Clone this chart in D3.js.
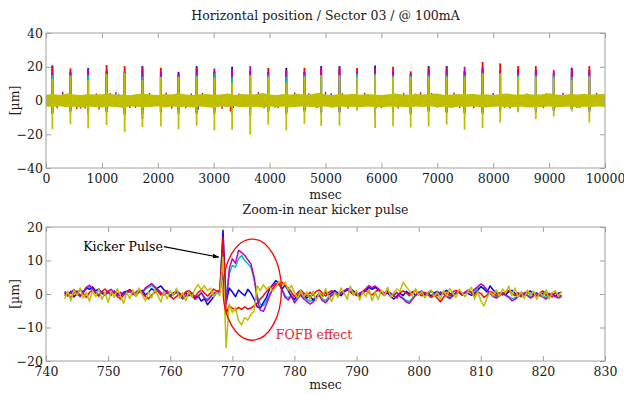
<!DOCTYPE html>
<html>
<head>
<meta charset="utf-8">
<script src="https://cdn.jsdelivr.net/npm/d3@7"></script>
<style>
  html, body { margin: 0; padding: 0; background: #fff; }
  svg { display: block; }
  text { font-family: "DejaVu Serif", serif; }
</style>
</head>
<body>
<svg id="chart" width="624" height="394"></svg>
<script>
// ---------- Series colours (blue, red, magenta, cyan, yellow) ----------
const seriesNames = ["BPM 1", "BPM 2", "BPM 3", "BPM 4", "BPM 5"];
const seriesColors = ["#0000ff", "#ff0000", "#bf00bf", "#00bfbf", "#bfbf00"];

// ---------- Top panel: 10 s record ----------
const topXTicks = [0, 1000, 2000, 3000, 4000, 5000, 6000, 7000, 8000, 9000, 10000];
const topYTicks = [-40, -20, 0, 20, 40];

// kicker pulse instants [msec]
const spikeTimes = [114, 437, 754, 1084, 1407, 1725, 2054, 2371, 2695, 3012, 3329, 3653, 3976, 4299, 4623,
  4923, 5250, 5565, 5887, 6208, 6524, 6845, 7167, 7488, 7810, 8125, 8446, 8762, 9083, 9405, 9720];

// positive excursion at each pulse, per series [um]
const spikePeakBlue    = [20.8, 17, 19.2, 18, 17, 20.4, 17, 17, 20.4, 17, 20, 17, 17, 19.3, 17, 20.4, 20.4, 17, 20.8, 17, 16, 20.4, 20.4, 17, 19, 18, 18, 18, 16, 19.4, 18];
const spikePeakRed     = [20, 19, 17.5, 21, 20.4, 19.5, 19.4, 16, 19.5, 17.5, 18, 17.5, 19.3, 18, 19.4, 19.5, 19.8, 19.2, 19.5, 20, 17.3, 19.5, 19.8, 17.5, 22.8, 22, 20.4, 20.4, 16.5, 18.5, 20.4];
const spikePeakMagenta = [17, 16.5, 18.5, 17, 17, 18, 17, 15.5, 18, 19, 18.5, 20.4, 17, 17.5, 17, 18, 18, 17, 18, 17, 16, 18, 18, 20, 19.5, 17, 17, 17, 18, 17, 17];
const spikePeakCyan    = [15, 15, 15, 15, 16, 14, 14, 14, 15, 16, 14, 15, 15, 14, 15, 15, 15, 16, 16, 15, 15, 15, 15, 15, 16, 16, 15, 15, 15, 14, 15];
const spikePeakYellow  = [13, 14.5, 12, 15.7, 16.5, 12, 14, 14, 14, 13.5, 10.6, 15, 14, 10.6, 14, 15, 15, 14, 15, 14, 14, 14, 14, 14, 16, 16, 14, 14, 13.5, 12, 14];

// negative excursion at each pulse, per series [um]
const spikeLowBlue    = [-7, -6, -7, -6, -7, -6, -7, -6, -8, -6, -7, -6, -6, -7, -6, -7, -6, -5, -7, -6, -8, -6, -7, -6, -7, -6, -5, -6, -6, -5, -6];
const spikeLowRed     = [-8, -6, -7, -7, -8, -11, -7, -6, -7, -7, -8, -7, -6, -7, -6, -7, -7, -5, -7, -7, -7, -6, -7, -7, -7, -6, -5, -6, -6, -5, -6];
const spikeLowMagenta = [-8, -7, -8, -7, -9, -8, -7, -8, -7, -8, -8, -9, -7, -8, -7, -7, -7, -5, -8, -7, -8, -7, -7, -8, -8, -7, -6, -7, -6, -5, -7];
const spikeLowCyan    = [-7, -6, -7, -6, -8, -7, -6, -7, -6, -7, -7, -8, -6, -7, -6, -6, -6, -5, -7, -6, -7, -6, -6, -7, -7, -6, -5, -6, -5, -5, -6];
const spikeLowYellow  = [-17, -14, -16.5, -14.5, -18.7, -15.7, -15.3, -17, -15, -17.7, -17.3, -20.2, -14.3, -17.7, -13.8,
  -15, -15, -6, -16.3, -15.3, -16, -15.3, -14.3, -17.3, -16.3, -13, -7, -11, -9.4, -6.5, -13];

// noise envelope of the last series, sampled evenly over 0..10000 msec [um]
const bandHigh = [3.4, 3.8, 3.2, 4.1, 3.6, 3.3, 3.9, 3.5, 3.7, 4.2, 3.4, 3.6, 3.1, 3.8, 4.0, 3.5, 3.3, 3.9, 3.6, 4.3,
  3.5, 3.2, 3.7, 3.9, 3.4, 3.6, 4.1, 3.3, 3.8, 3.5, 3.7, 4.4, 3.6, 3.2, 3.9, 3.5, 4.0, 3.4, 3.7, 4.6,
  3.5, 3.3, 3.8, 3.6, 4.0, 3.4, 3.9, 3.5, 3.2, 3.7, 4.1, 3.6, 3.4, 3.9, 3.5, 3.8, 4.2, 3.3, 3.6, 3.9,
  3.5, 4.0, 3.4, 3.7, 3.3, 3.8, 4.1, 3.5, 3.6, 3.9, 3.4, 3.7, 4.3, 3.5, 3.2, 3.8, 3.6, 4.0, 3.5, 3.7, 3.9];
const bandLow = [-3.6, -3.9, -3.4, -4.0, -3.7, -4.3, -3.5, -3.8, -4.1, -3.6, -3.9, -4.4, -3.5, -3.7, -4.0, -3.8, -3.4, -4.2, -3.6, -3.9,
  -3.7, -4.1, -3.5, -3.8, -4.5, -3.6, -3.9, -3.4, -4.0, -3.7, -3.8, -4.2, -3.5, -3.9, -3.6, -4.1, -3.7, -3.4, -4.0, -3.8,
  -3.6, -4.3, -3.5, -3.9, -3.7, -4.0, -3.6, -3.8, -4.2, -3.5, -3.9, -3.7, -4.1, -3.6, -3.8, -3.4, -4.0, -3.7, -4.4, -3.6,
  -3.9, -3.5, -3.8, -4.1, -3.7, -3.6, -4.0, -3.8, -3.5, -4.2, -3.7, -3.9, -3.6, -4.0, -3.8, -3.5, -4.1, -3.7, -3.9, -3.6, -3.8];

// isolated noise excursions of the other series beyond the band [msec, um]
const blueExcursions = [[1100, -4.4], [2720, -5.5], [3350, -4.5], [5100, 4.2], [5900, -4.8], [7800, 4.3], [9100, -4.6]];
const redExcursions = [[200, -4.6], [550, -5.2], [700, -4.8], [950, -5.4], [1150, 4.5], [1600, -4.4], [2250, -4.8], [2600, 4.2],
  [3300, -6.5], [3900, -4.6], [4850, -4.4], [5300, 4.3], [6300, -4.7], [6900, 4.4], [7400, -4.5], [8200, -4.3], [8950, 4.2], [9500, -4.4]];
const magentaExcursions = [[300, 5.2], [420, 4.6], [620, -4.8], [900, 4.2], [1250, 5.0], [1500, -4.5], [1850, 4.4], [2150, 4.8],
  [2500, -4.6], [2800, 4.5], [3150, -5.0], [3450, 4.2], [3800, 5.0], [4150, -4.4], [4450, 4.8], [4700, 4.3], [5000, 5.2],
  [5400, -4.8], [5700, 4.6], [6000, -4.5], [6400, 4.4], [6700, 5.0], [7000, -4.2], [7300, 4.8], [7650, -4.6], [8000, 4.4],
  [8300, -4.8], [8600, 4.2], [8900, -4.5], [9250, 4.6], [9550, -4.3], [9850, 4.5]];
const cyanExcursions = [[1300, 4.2], [4100, -4.3], [6600, 4.1], [8700, -4.2]];

// ---------- Bottom panel: zoom around the pulse at 768.5 msec ----------
const zoomXTicks = [740, 750, 760, 770, 780, 790, 800, 810, 820, 830];
const zoomYTicks = [-20, -10, 0, 10, 20];
const zoomStart = 743, zoomStep = 0.5;   // sample grid [msec]

const zoomBlue = [
  0.4, -0.6, 0.8, -0.9, 0.3, 1.2, 0.6, 1.9, 1.4, 2.1, 0.9, 1.5, 0.2, -0.4, 0.6, -0.2, 0.9, 0.1, -0.7, 0.5,
  0.8, 1.3, 0.4, -0.5, 0.7, 1.1, -0.3, 0.5, 1.6, 0.9, 1.8, 2.4, 1.2, 0.6, -0.4, 0.3, 1.0, 0.2, -0.6, 0.4,
  -0.5, 0.3, -1.2, -0.6, -2.1, -1.4, -3.2, -2.0, -0.8, 0.4, 0.9, 19.0, -2.5, 1.8, 0.6, -0.8, 1.2, 0.3, -0.5, 1.4,
  0.2, -1.5, -3.8, -4.2, -2.5, -1.0, 1.5, 2.8, 4.0, 3.2, 1.5, 2.6, 1.0, -0.8, -1.6, -0.4, 0.8, -0.3, -1.2, -0.5,
  -1.8, -0.9, 0.2, -0.6, 0.5, -0.3, 0.4, 1.0, 0.3, -0.5, 0.6, 1.2, 1.8, 0.9, 0.2, -0.4, 0.5, 1.0, 1.9, 1.4,
  2.0, 1.2, 0.5, -0.3, 0.4, -0.8, -1.5, -0.6, 0.2, -0.5, 0.8, 0.1, 0.6, -0.4, 0.3, 0.9, -0.2, 0.4, -0.6, 0.3,
  0.8, -0.2, 0.5, 1.1, 0.2, -0.5, 0.4, 0.9, -0.3, 0.6, 0.1, -0.4, 0.3, 1.0, 2.2, 1.5, 0.6, 2.4, 1.2, 0.3,
  -0.5, 0.4, -0.2, 0.7, 1.1, 0.2, -0.6, 0.5, -0.3, 0.4, 0.9, -0.2, 0.3, -0.5, 0.2, 0.8, -0.4, 0.3, -0.8, 0.2,
  0.5];
const zoomRed = [
  -0.5, 0.6, -1.2, 0.3, 0.9, -0.4, 0.2, -1.0, 0.5, 1.2, 0.3, -0.6, 0.8, 1.5, 0.4, -0.3, 0.7, -0.8, -1.5, -0.2,
  0.6, 1.2, 0.3, -0.5, 0.9, 0.2, -0.7, -1.4, -0.4, 0.5, 0.8, -0.3, 0.4, 1.0, -0.6, -1.5, -0.8, 0.3, -0.5, 0.6,
  1.0, 0.2, -0.8, 0.5, 1.2, 0.3, -0.6, 0.4, 1.5, 0.8, 1.2, 17.0, -6.0, -3.5, -4.2, -4.8, -4.0, -4.6, -3.8, -4.5,
  -4.2, -3.5, -2.8, -1.5, -0.5, 0.8, 1.6, 2.5, 3.2, 2.8, 3.5, 2.4, 1.8, 0.6, -0.8, 0.4, 1.2, 0.3, -0.6, 0.5,
  -0.4, 0.8, 1.2, 0.2, -0.6, 0.5, 1.0, 0.3, -0.5, 0.4, 0.9, 1.5, 0.6, -0.2, 0.5, -0.8, 0.3, 1.1, 0.4, -0.3,
  0.6, 1.2, 0.3, -0.4, 0.8, 0.2, -0.7, -1.2, 0.4, 0.9, 0.3, -0.5, 0.6, 1.0, 0.2, -0.6, 0.5, -0.3, -1.0, -0.4,
  -1.2, -2.3, -1.0, 0.3, -0.5, 0.6, 1.1, 0.4, -0.3, 0.5, 1.2, 0.3, -0.4, 0.6, 0.2, -1.0, -0.4, 0.8, 0.3, -0.5,
  0.4, -0.3, 0.6, 1.0, 0.2, -0.5, 0.4, -0.8, 0.3, 0.7, -0.2, 0.5, -0.6, 0.3, 0.9, -0.4, 0.2, -0.9, 0.4, -0.3,
  -0.5];
const zoomMagenta = [
  0.8, -0.5, 0.4, 1.3, 0.2, -0.8, 0.6, 2.0, 2.6, 1.5, 0.4, -0.5, 0.7, -0.2, 0.9, 1.4, 0.3, -0.4, 0.5, -0.3,
  0.4, 0.9, -0.2, 0.6, 1.2, 0.5, 1.8, 2.5, 3.1, 2.2, 1.3, 0.4, -0.3, 0.6, -0.8, -0.2, 0.5, -0.4, -1.5, -0.6,
  0.3, -0.5, -1.6, -0.8, 0.4, -1.2, -2.0, -0.9, 0.2, 0.6, 0.9, 8.0, -3.0, 7.5, 10.5, 9.2, 13.0, 12.4, 11.5, 10.2,
  9.0, 5.0, -1.5, -4.8, -5.2, -3.0, -0.5, 1.6, 2.8, 3.4, 1.2, -1.0, -1.8, -0.5, -2.6, -1.4, -0.3, -1.5, -2.2, -3.0,
  -2.4, -1.2, -0.5, -2.0, -2.6, -1.5, -0.4, 0.3, -0.6, 0.4, 0.9, 1.6, 0.8, 0.2, -0.5, 0.3, 0.8, 1.6, 2.5, 1.8,
  2.4, 1.6, 0.8, 0.3, 0.9, 0.2, -0.4, 0.5, -0.8, -1.5, -2.4, -2.8, -1.6, -0.4, 0.5, 0.2, -0.6, 0.4, 0.9, 0.1,
  -0.5, 0.6, 0.2, -0.8, -1.4, -0.6, 0.3, 0.8, -0.2, 0.5, 1.2, 0.4, 1.4, 2.2, 3.0, 2.4, 1.2, 0.2, -0.8, -1.2,
  -0.6, 0.3, -0.4, -1.0, -2.0, -1.6, -0.8, -0.3, 0.2, -0.5, -1.2, -0.6, 0.3, -0.4, -0.9, -1.5, -0.6, 0.2, -0.7, -1.2,
  -0.8];
const zoomCyan = [
  0.5, -0.3, 0.6, 1.0, 0.1, -0.6, 0.4, 1.5, 2.0, 1.2, 0.6, -0.2, 0.5, 0.1, 0.7, 1.1, 0.4, -0.2, 0.3, -0.1,
  0.3, 0.7, 0.0, 0.4, 0.9, 0.3, 1.4, 2.0, 2.6, 1.8, 1.0, 0.3, -0.1, 0.4, -0.5, -0.1, 0.4, -0.2, -1.0, -0.4,
  0.2, -0.3, -1.2, -0.5, 0.3, -0.9, -1.6, -0.6, 0.1, 0.4, 0.6, 6.0, -2.0, 6.0, 8.5, 8.0, 10.5, 11.5, 10.0, 9.0,
  8.0, 4.5, -0.5, -3.0, -3.5, -2.0, -0.2, 1.2, 2.4, 3.0, 1.5, -0.5, -1.2, -0.2, -1.8, -1.0, 0.0, -1.0, -1.6, -2.2,
  -1.8, -0.8, -0.3, -1.5, -2.0, -1.0, -0.2, 0.3, -0.4, 0.3, 0.7, 1.2, 0.6, 0.1, -0.3, 0.2, 0.6, 1.2, 2.0, 1.5,
  2.0, 1.3, 0.6, 0.2, 0.7, 0.1, -0.3, 0.3, -0.6, -1.2, -1.9, -2.3, -1.2, -0.3, 0.4, 0.1, -0.4, 0.3, 0.7, 0.0,
  -0.3, 0.4, 0.1, -0.6, -1.0, -0.4, 0.2, 0.6, -0.1, 0.4, 0.9, 0.3, 1.0, 1.6, 2.2, 1.8, 0.9, 0.1, -0.5, -0.9,
  -0.4, 0.2, -0.3, -0.7, -1.4, -1.2, -0.6, -0.2, 0.1, -0.3, -0.8, -0.4, 0.2, -0.3, -0.6, -1.0, -0.4, 0.1, -0.5, -0.8,
  -0.6];
const zoomYellow = [
  -1.5, 0.8, -2.0, 1.2, -0.5, 1.8, -1.2, 0.5, -2.2, 1.0, -0.8, 1.5, -1.6, 0.4, -2.5, 0.9, -1.0, 1.6, -0.6, -2.8,
  0.5, -1.4, 1.2, -0.8, 1.8, -0.3, -2.0, 0.7, -1.2, 1.4, -0.5, -2.4, 0.8, -1.5, 1.0, -0.6, 1.7, -1.3, 0.4, -2.0,
  0.6, -1.0, 1.5, 2.8, 1.2, 2.5, 1.0, 1.8, -0.8, 0.5, -0.5, 11.0, -16.0, -3.0, -5.5, -4.0, -8.0, -9.2, -7.0, -7.8,
  -6.0, -5.2, 2.5, 1.0, 2.8, 1.5, 2.2, 0.8, 2.0, 3.8, 2.5, 3.5, 1.2, 2.6, 0.5, -1.2, 1.0, -0.8, 0.6, -1.6,
  0.8, -2.0, 0.5, -1.2, 1.6, -0.6, -2.2, 0.4, -1.0, 1.8, 0.2, -1.5, 2.4, -0.4, 1.0, -1.8, 0.6, -0.8, 1.4, -2.0,
  0.5, -1.6, 1.2, -0.5, 2.0, -1.0, 0.4, 1.5, 0.8, 3.5, 2.2, 1.0, -0.6, 1.6, -0.4, 0.8, -1.2, 0.5, 1.2, -0.8,
  0.6, -1.5, 1.0, -0.6, 1.6, 0.2, -1.0, 1.4, 0.3, -0.8, 1.0, 2.0, -1.5, 0.8, -2.0, -3.6, -1.2, 0.6, -0.5, 1.2,
  -0.8, 1.5, 0.3, 2.4, -0.5, 1.8, -1.0, 0.6, -1.4, 1.2, -0.4, 0.9, -1.6, 0.5, -0.8, 1.2, -1.5, 0.4, 1.0, -0.6,
  0.8];

// annotations in data units
const kickerLabel = { text: "Kicker Pulse", x: 746.0, y: 12.8, tipX: 767.8, tipY: 11.0 };
const fofbEllipse = { cx: 773.2, cy: 1.3, rx: 4.7, ry: 15.1 };
const fofbLabel = { text: "FOFB effect", x: 777.0, y: -13.5 };

// ---------- Drawing ----------
const svg = d3.select("#chart");
const boxColor = "#a0a0a0";
const textColor = "#1a1a1a";
const tickFont = "12.5px";
const labelFont = "12.5px";

const topBox = { left: 46, right: 605, top: 33, bottom: 168 };
const botBox = { left: 46, right: 605, top: 227, bottom: 361 };

const xTop = d3.scaleLinear().domain([0, 10000]).range([topBox.left, topBox.right]);
const yTop = d3.scaleLinear().domain([-40, 40]).range([topBox.bottom, topBox.top]);
const xBot = d3.scaleLinear().domain([740, 830]).range([botBox.left, botBox.right]);
const yBot = d3.scaleLinear().domain([-20, 20]).range([botBox.bottom, botBox.top]);

function drawFrame(box, x, y, xTicks, yTicks) {
  const g = svg.append("g");
  const styleAxis = sel => {
    sel.select(".domain").remove();
    sel.selectAll(".tick line").attr("stroke", boxColor);
    sel.selectAll(".tick text").attr("fill", textColor)
      .style("font-family", "'DejaVu Serif', serif").style("font-size", tickFont);
  };
  g.append("g").attr("transform", `translate(0,${box.bottom})`)
    .call(d3.axisBottom(x).tickValues(xTicks).tickSizeInner(-5).tickSizeOuter(0).tickPadding(6).tickFormat(d3.format("d")))
    .call(styleAxis);
  g.append("g").attr("transform", `translate(0,${box.top})`)
    .call(d3.axisTop(x).tickValues(xTicks).tickSizeInner(-5).tickSizeOuter(0).tickFormat(""))
    .call(styleAxis);
  g.append("g").attr("transform", `translate(${box.left},0)`)
    .call(d3.axisLeft(y).tickValues(yTicks).tickSizeInner(-5).tickSizeOuter(0).tickPadding(3).tickFormat(d3.format("d")))
    .call(styleAxis);
  g.append("g").attr("transform", `translate(${box.right},0)`)
    .call(d3.axisRight(y).tickValues(yTicks).tickSizeInner(-5).tickSizeOuter(0).tickFormat(""))
    .call(styleAxis);
  g.append("rect")
    .attr("x", box.left).attr("y", box.top)
    .attr("width", box.right - box.left).attr("height", box.bottom - box.top)
    .attr("fill", "none").attr("stroke", boxColor).attr("stroke-width", 1);
  return g;
}

function addLabels(box, title, titleY, xlabY) {
  const cx = (box.left + box.right) / 2;
  svg.append("text").attr("x", cx).attr("y", titleY).attr("text-anchor", "middle")
    .attr("fill", textColor).style("font-size", labelFont).text(title);
  svg.append("text").attr("x", cx).attr("y", xlabY).attr("text-anchor", "middle")
    .attr("fill", textColor).style("font-size", labelFont).text("msec");
  const cy = (box.top + box.bottom) / 2;
  svg.append("text").attr("transform", `translate(19,${cy}) rotate(-90)`)
    .attr("text-anchor", "middle").attr("fill", textColor)
    .style("font-size", labelFont).text("[µm]");
}

// clip regions
const defs = svg.append("defs");
[["clipTop", topBox], ["clipBot", botBox]].forEach(([id, b]) => {
  defs.append("clipPath").attr("id", id).append("rect")
    .attr("x", b.left).attr("y", b.top).attr("width", b.right - b.left).attr("height", b.bottom - b.top);
});
defs.append("marker").attr("id", "arrowHead")
  .attr("viewBox", "0 0 10 10").attr("refX", 9).attr("refY", 5)
  .attr("markerWidth", 6).attr("markerHeight", 6).attr("orient", "auto")
  .append("path").attr("d", "M0,1.5 L10,5 L0,8.5 Z").attr("fill", "#000");

// ----- top panel -----
const topPlot = svg.append("g").attr("clip-path", "url(#clipTop)");
const peaks = [spikePeakBlue, spikePeakRed, spikePeakMagenta, spikePeakCyan, spikePeakYellow];
const lows = [spikeLowBlue, spikeLowRed, spikeLowMagenta, spikeLowCyan, spikeLowYellow];
const excursions = [blueExcursions, redExcursions, magentaExcursions, cyanExcursions, []];

[0, 1, 2, 3].forEach(s => {
  topPlot.append("g").selectAll("line").data(excursions[s]).join("line")
    .attr("x1", d => xTop(d[0])).attr("x2", d => xTop(d[0]))
    .attr("y1", yTop(0)).attr("y2", d => yTop(d[1]))
    .attr("stroke", seriesColors[s]).attr("stroke-width", 1.4);
  topPlot.append("g").selectAll("line").data(spikeTimes).join("line")
    .attr("x1", d => xTop(d)).attr("x2", d => xTop(d))
    .attr("y1", (d, i) => yTop(lows[s][i])).attr("y2", (d, i) => yTop(peaks[s][i]))
    .attr("stroke", seriesColors[s]).attr("stroke-width", 1.8);
});

const bandStep = 10000 / (bandHigh.length - 1);
topPlot.append("path")
  .datum(bandHigh.map((v, i) => [i * bandStep, v, bandLow[i]]))
  .attr("d", d3.area().x(d => xTop(d[0])).y0(d => yTop(d[2])).y1(d => yTop(d[1])))
  .attr("fill", seriesColors[4]);
topPlot.append("g").selectAll("line").data(spikeTimes).join("line")
  .attr("x1", d => xTop(d)).attr("x2", d => xTop(d))
  .attr("y1", (d, i) => yTop(lows[4][i])).attr("y2", (d, i) => yTop(peaks[4][i]))
  .attr("stroke", seriesColors[4]).attr("stroke-width", 1.8);

drawFrame(topBox, xTop, yTop, topXTicks, topYTicks);
addLabels(topBox, "Horizontal position / Sector 03 / @ 100mA", 19.5, 199);

// ----- bottom panel -----
const botPlot = svg.append("g").attr("clip-path", "url(#clipBot)");
const zoomSeries = [zoomBlue, zoomRed, zoomMagenta, zoomCyan, zoomYellow];
const drawOrder = [3, 0, 1, 2, 4];
const line = d3.line().x((d, i) => xBot(zoomStart + i * zoomStep)).y(d => yBot(d));
drawOrder.forEach(s => {
  botPlot.append("path").datum(zoomSeries[s])
    .attr("d", line).attr("fill", "none")
    .attr("stroke", seriesColors[s]).attr("stroke-width", 1.5)
    .attr("stroke-linejoin", "round");
});

drawFrame(botBox, xBot, yBot, zoomXTicks, zoomYTicks);
addLabels(botBox, "Zoom-in near kicker pulse", 213.5, 389);

// annotations
svg.append("ellipse")
  .attr("cx", xBot(fofbEllipse.cx)).attr("cy", yBot(fofbEllipse.cy))
  .attr("rx", xBot(740 + fofbEllipse.rx) - xBot(740))
  .attr("ry", yBot(0) - yBot(fofbEllipse.ry))
  .attr("fill", "none").attr("stroke", "#ff0000").attr("stroke-width", 1.3);

const kickText = svg.append("text")
  .attr("x", xBot(kickerLabel.x)).attr("y", yBot(kickerLabel.y))
  .attr("fill", "#000").style("font-size", labelFont).text(kickerLabel.text);
const kb = kickText.node().getBBox();
svg.append("line")
  .attr("x1", kb.x + kb.width + 1).attr("y1", kb.y + kb.height * 0.5)
  .attr("x2", xBot(kickerLabel.tipX)).attr("y2", yBot(kickerLabel.tipY))
  .attr("stroke", "#000").attr("stroke-width", 1.1)
  .attr("marker-end", "url(#arrowHead)");

svg.append("text")
  .attr("x", xBot(fofbLabel.x)).attr("y", yBot(fofbLabel.y))
  .attr("fill", "#e8232a").style("font-size", labelFont).text(fofbLabel.text);
</script>
</body>
</html>
